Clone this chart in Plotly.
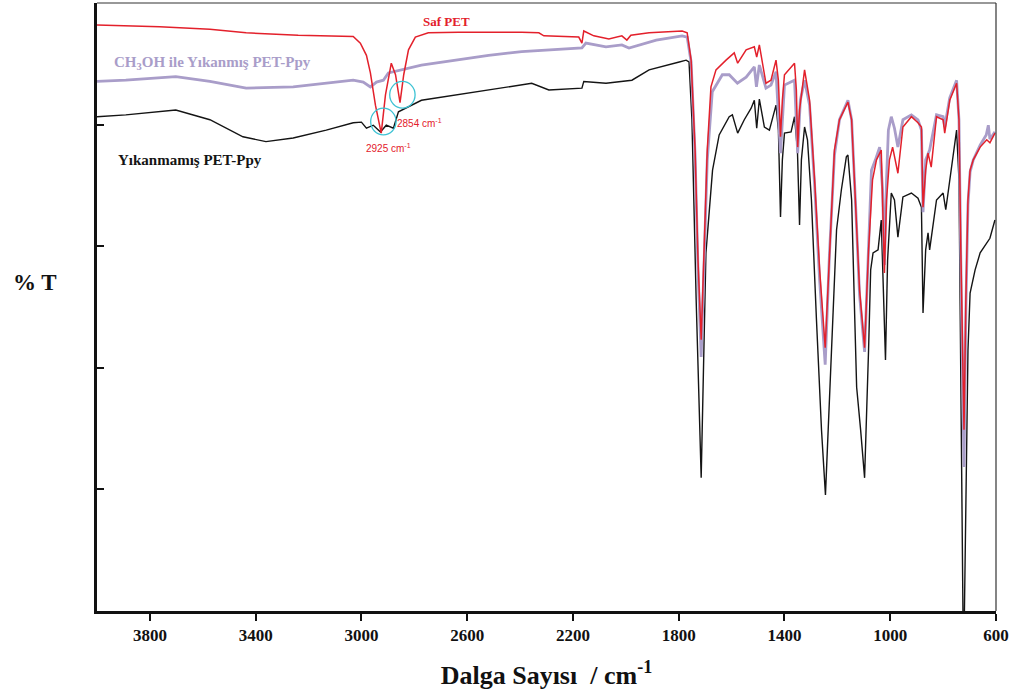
import plotly.graph_objects as go

# FT-IR spectra (%T vs wavenumber, cm-1)
wn_pet = [4000, 3891, 3763, 3573, 3436, 3239, 3031, 3004, 2981, 2966, 2947, 2925, 2909, 2887, 2871,
          2854, 2840, 2822, 2796, 2747, 2633, 2394, 2329, 2310, 2178, 2166, 2159, 2121, 2064, 2015,
          1996, 1981, 1912, 1787, 1768, 1753, 1738, 1727, 1715, 1704, 1692, 1678, 1659, 1621, 1590,
          1577, 1545, 1514, 1505, 1495, 1470, 1451, 1432, 1423, 1415, 1408, 1400, 1362, 1355, 1350,
          1343, 1324, 1305, 1286, 1267, 1246, 1230, 1211, 1192, 1160, 1146, 1131, 1116, 1097, 1082,
          1067, 1052, 1034, 1029, 1022, 1014, 1003, 991, 971, 952, 920, 895, 882, 876, 866, 857, 845,
          825, 800, 794, 775, 749, 740, 733, 721, 714, 706, 698, 686, 660, 635, 623, 604]
t_pet = [96.4, 96.3, 96.1, 95.7, 95.1, 94.7, 94.5, 93.4, 91.4, 88.5, 83.2, 78.6, 84.9, 90.1, 88.2,
         83.6, 88.2, 92.3, 94.4, 95.1, 95.2, 95.2, 95.1, 94.6, 94.4, 93.4, 95.4, 94.6, 94.1, 94.6,
         93.9, 94.7, 95.1, 95.4, 95.1, 90.6, 75.8, 57.7, 44.6, 59.4, 75.8, 86.2, 89.0, 90.6, 91.8,
         90.1, 92.3, 92.8, 91.1, 93.1, 86.8, 87.3, 90.6, 87.3, 78.0, 84.0, 88.2, 90.1, 85.7, 76.3,
         82.4, 89.0, 84.0, 70.9, 56.1, 43.3, 59.4, 75.8, 80.8, 83.7, 80.8, 67.6, 52.8, 43.3, 59.4,
         70.9, 74.2, 75.8, 67.6, 55.6, 67.6, 74.2, 76.3, 72.0, 79.6, 81.3, 80.3, 79.6, 66.4, 72.5, 75.3, 73.0,
         81.3, 80.8, 78.6, 84.0, 86.8, 80.8, 59.4, 29.8, 51.2, 67.6, 72.5, 74.2, 76.3, 77.5, 77.0, 78.6]

wn_wash = [4000, 3891, 3702, 3573, 3436, 3258, 3031, 2993, 2966, 2943, 2917, 2898, 2773, 2644, 2519,
           2394, 2265, 2166, 2151, 2075, 2015, 1988, 1885, 1787, 1768, 1753, 1738, 1727, 1715, 1704,
           1692, 1673, 1635, 1609, 1578, 1545, 1514, 1506, 1495, 1470, 1451, 1432, 1415, 1400, 1374,
           1362, 1350, 1340, 1324, 1305, 1286, 1267, 1246, 1230, 1211, 1192, 1160, 1146, 1131, 1116,
           1097, 1082, 1071, 1056, 1040, 1029, 1022, 1014, 1007, 996, 984, 971, 952, 920, 895, 882,
           876, 866, 851, 825, 800, 794, 775, 749, 740, 733, 721, 714, 706, 698, 686, 660, 637, 629,
           623, 604]
t_wash = [87.1, 87.3, 87.9, 87.1, 86.0, 86.2, 87.3, 87.0, 86.2, 87.0, 87.3, 88.5, 89.8, 90.6, 91.4,
          92.0, 92.3, 92.6, 93.4, 92.8, 93.1, 92.6, 93.9, 94.6, 94.4, 90.3, 75.0, 56.1, 41.8, 57.7,
          74.2, 85.4, 88.2, 88.2, 86.8, 87.8, 89.5, 86.2, 89.8, 86.0, 86.5, 88.7, 75.3, 86.5, 87.0,
          87.3, 75.3, 84.0, 87.3, 83.2, 70.1, 54.4, 40.5, 58.6, 75.0, 80.8, 84.0, 80.8, 66.8, 52.0,
          42.6, 59.4, 72.5, 74.2, 76.3, 69.4, 56.9, 70.9, 79.1, 81.3, 79.4, 76.3, 80.8, 81.6, 80.8, 79.1,
          65.6, 74.2, 75.8, 81.6, 81.3, 79.6, 84.4, 87.3, 80.8, 57.7, 23.7, 49.5, 66.8, 72.2, 74.2, 76.6, 78.3, 79.9,
          77.6, 78.8]

wn_raw = [4000, 3891, 3702, 3573, 3448, 3361, 3258, 3133, 3031, 3000, 2981, 2955, 2928, 2906, 2879,
          2860, 2773, 2644, 2519, 2356, 2291, 2166, 2159, 2075, 1977, 1912, 1798, 1772, 1761, 1750,
          1734, 1715, 1697, 1672, 1647, 1609, 1597, 1577, 1552, 1526, 1514, 1505, 1495, 1476, 1457,
          1432, 1423, 1415, 1408, 1400, 1375, 1362, 1351, 1343, 1336, 1324, 1313, 1298, 1279, 1260,
          1245, 1230, 1218, 1203, 1185, 1166, 1160, 1146, 1134, 1127, 1112, 1097, 1082, 1074, 1065,
          1046, 1034, 1027, 1018, 1010, 996, 984, 971, 952, 920, 895, 882, 876, 866, 857, 851, 825,
          800, 790, 775, 749, 740, 733, 725, 720, 714, 706, 698, 679, 660, 635, 623, 604]
t_raw = [81.3, 81.6, 82.4, 80.8, 78.0, 77.2, 77.8, 79.1, 80.3, 80.4, 79.4, 79.9, 78.8, 79.9, 79.4,
         82.1, 84.0, 84.9, 85.7, 86.8, 85.7, 86.0, 87.1, 86.8, 87.3, 89.0, 90.3, 90.6, 90.3, 80.8,
         51.2, 21.9, 58.9, 72.5, 78.3, 81.3, 81.6, 78.6, 80.8, 82.7, 84.0, 79.4, 84.2, 79.6, 79.1,
         83.2, 79.1, 64.8, 74.2, 78.6, 78.8, 81.3, 75.8, 63.5, 74.2, 79.6, 77.5, 67.6, 47.9, 29.8,
         19.1, 34.7, 47.9, 62.7, 69.2, 74.7, 75.0, 67.6, 47.9, 36.8, 29.8, 21.9, 42.9, 56.1, 58.9,
         59.4, 64.3, 52.8, 41.3, 57.7, 68.75, 67.6, 61.5, 68.1, 68.75, 67.9, 66.4, 49.0, 59.4, 62.2, 59.4, 67.6,
         68.75, 66.0, 70.9, 79.1, 70.9, 34.7, 0.0, -2.0, 18.3, 42.9, 52.3, 56.1, 58.9, 60.5, 61.3, 64.3]

x_ticks = [3800, 3400, 3000, 2600, 2200, 1800, 1400, 1000, 600]
y_ticks = [20, 40, 60, 80]
peak_a, peak_b = 2925, 2854

RED = "#e3202b"
LAV = "#a99dc9"
BLK = "#141414"
CYAN = "#3ec3d4"
SERIF = "Liberation Serif"

fig = go.Figure()
fig.add_trace(go.Scatter(x=wn_raw, y=t_raw, mode="lines",
                         line=dict(color=BLK, width=1.4), name="Yıkanmamış PET-Ppy"))
fig.add_trace(go.Scatter(x=wn_wash, y=t_wash, mode="lines",
                         line=dict(color=LAV, width=2.8), name="CH3OH ile Yıkanmış PET-Ppy"))
fig.add_trace(go.Scatter(x=wn_pet, y=t_pet, mode="lines",
                         line=dict(color=RED, width=1.5), name="Saf PET"))

# cyan rings marking the C-H stretching bands
for cx, cy in [(peak_a - 8, 80.5), (peak_b - 9, 84.9)]:
    fig.add_shape(type="circle", xref="x", yref="y",
                  x0=cx + 48, x1=cx - 48, y0=cy - 2.2, y1=cy + 2.2,
                  line=dict(color=CYAN, width=1.3))

# top and right frame lines (thin)
fig.add_shape(type="line", xref="paper", yref="paper", x0=0, x1=1, y0=1, y1=1,
              line=dict(color="#333", width=1.2))
fig.add_shape(type="line", xref="paper", yref="paper", x0=1, x1=1, y0=0, y1=1,
              line=dict(color="#333", width=1.2))

ann = [
    dict(x=2680, y=97.0, text="Saf PET", font=dict(family=SERIF, size=13, color=RED, weight="bold")),
    dict(x=3565, y=90.1, text="CH<sub>3</sub>OH ile Yıkanmış PET-Ppy",
         font=dict(family=SERIF, size=15, color=LAV, weight="bold")),
    dict(x=3648, y=74.2, text="Yıkanmamış PET-Ppy",
         font=dict(family=SERIF, size=15, color=BLK, weight="bold")),
    dict(x=2898, y=76.2, text=f"{peak_a} cm<sup>-1</sup>",
         font=dict(family="Liberation Sans", size=10, color=RED)),
    dict(x=2780, y=80.3, text=f"{peak_b} cm<sup>-1</sup>",
         font=dict(family="Liberation Sans", size=10, color=RED)),
]
for a in ann:
    fig.add_annotation(xref="x", yref="y", showarrow=False, **a)

fig.add_annotation(xref="paper", yref="paper", x=-0.069, y=0.5, xanchor="center",
                   yanchor="middle", yshift=25, showarrow=False, text="% T",
                   font=dict(family=SERIF, size=23, color="#111", weight="bold"))

fig.update_layout(
    width=1019, height=695,
    margin=dict(l=97, r=23, t=3, b=84),
    paper_bgcolor="white", plot_bgcolor="white",
    showlegend=False,
    xaxis=dict(range=[4000, 600], tickvals=x_ticks, ticktext=[str(v) for v in x_ticks],
               showgrid=False, zeroline=False, showline=True, linecolor="#111", linewidth=2.5,
               ticks="outside", ticklen=7, tickwidth=2, tickcolor="#111",
               tickfont=dict(family=SERIF, size=17, color="#111", weight="bold"),
               title=dict(text="Dalga Sayısı  / cm<sup>-1</sup>", standoff=22,
                          font=dict(family=SERIF, size=26, color="#111", weight="bold"))),
    yaxis=dict(range=[0, 100], tickvals=y_ticks, showticklabels=False,
               showgrid=False, zeroline=False, showline=True, linecolor="#111", linewidth=2.5,
               ticks="inside", ticklen=7, tickwidth=2, tickcolor="#111"),
)

fig.write_html("out.html")
